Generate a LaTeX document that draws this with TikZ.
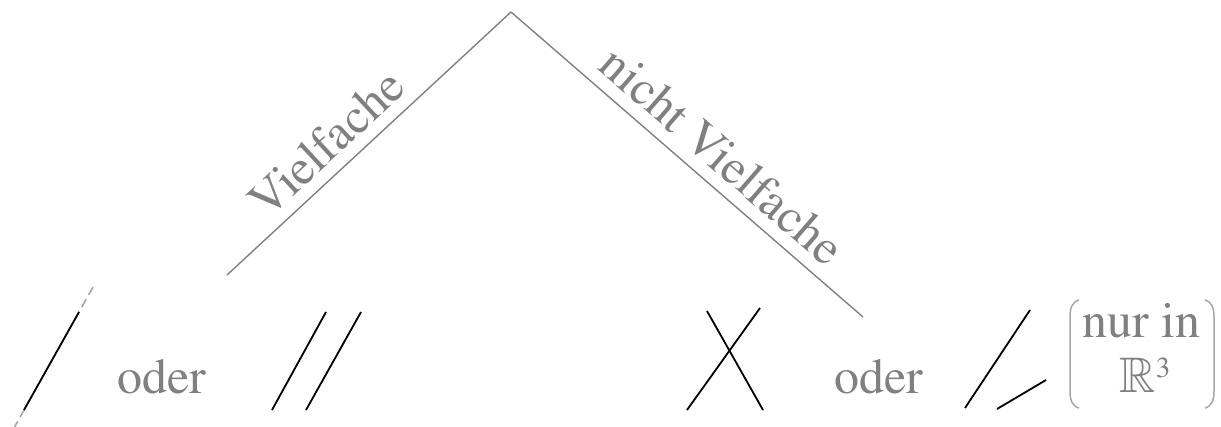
\documentclass[tikz,border=0pt]{standalone}
\usepackage[T1]{fontenc}
\usepackage{mathptmx}
\usepackage{amssymb}
\begin{document}
\begin{tikzpicture}[x=1pt,y=-1pt,
  branch/.style={draw=black!50, line width=1.4pt},
  seg/.style={draw=black, line width=1.8pt},
  ext/.style={draw=black!35, line width=1.6pt, dash pattern=on 9pt off 5pt},
  paren/.style={draw=black!35, line width=1.5pt},
  lbl/.style={text=black!50, font=\fontfamily{ptm}\fontsize{50}{55}\selectfont, inner sep=0pt},
]
\useasboundingbox (0,0) rectangle (1221,426);
% tree
\coordinate (A) at (511,12);
\coordinate (L) at (227,275);
\coordinate (R) at (863,317);
\draw[branch] (L) -- node[lbl, sloped, above=11pt, pos=0.42] (vl) {Vielfache} (A);
\draw[branch] (A) -- node[lbl, sloped, above=12pt, pos=0.545] (vr) {nicht Vielfache} (R);
% single line with extension
\coordinate (e1) at (93,287);
\coordinate (e2) at (14,428);
\coordinate (s1) at (79,312);
\coordinate (s2) at (24,410);
\draw[ext] (e1) -- (e2);
\draw[seg] (s1) -- (s2);
\node[lbl, anchor=base west] (oder1) at (117,393) {oder};
% parallel lines
\coordinate (p1a) at (326,312); \coordinate (p1b) at (272,410);
\coordinate (p2a) at (361,312); \coordinate (p2b) at (306,410);
\draw[seg] (p1a) -- (p1b);
\draw[seg] (p2a) -- (p2b);
% crossing lines
\coordinate (x1a) at (707,311); \coordinate (x1b) at (763,410);
\coordinate (x2a) at (760,308); \coordinate (x2b) at (687,410);
\draw[seg] (x1a) -- (x1b);
\draw[seg] (x2a) -- (x2b);
\node[lbl, anchor=base west] (oder2) at (834,393) {oder};
% skew lines
\coordinate (w1a) at (1030,310); \coordinate (w1b) at (965,408);
\coordinate (w2a) at (1046,380); \coordinate (w2b) at (997,409);
\draw[seg] (w1a) -- (w1b);
\draw[seg] (w2a) -- (w2b);
% parenthesised note
\node[lbl, anchor=base] (nur) at (1141.5,337) {nur in};
\node[lbl, anchor=base] (r3) at (1145,392) {$\mathbb{R}$\raisebox{15pt}{\fontsize{29}{30}\selectfont 3}};
\draw[paren] (1079,300) .. controls (1072,302) and (1070,308) .. (1070,317) -- (1070,391) .. controls (1070,400) and (1072,406) .. (1079,408);
\draw[paren] (1205,300) .. controls (1212,302) and (1214,308) .. (1214,317) -- (1214,391) .. controls (1214,400) and (1212,406) .. (1205,408);
\end{tikzpicture}
\end{document}
